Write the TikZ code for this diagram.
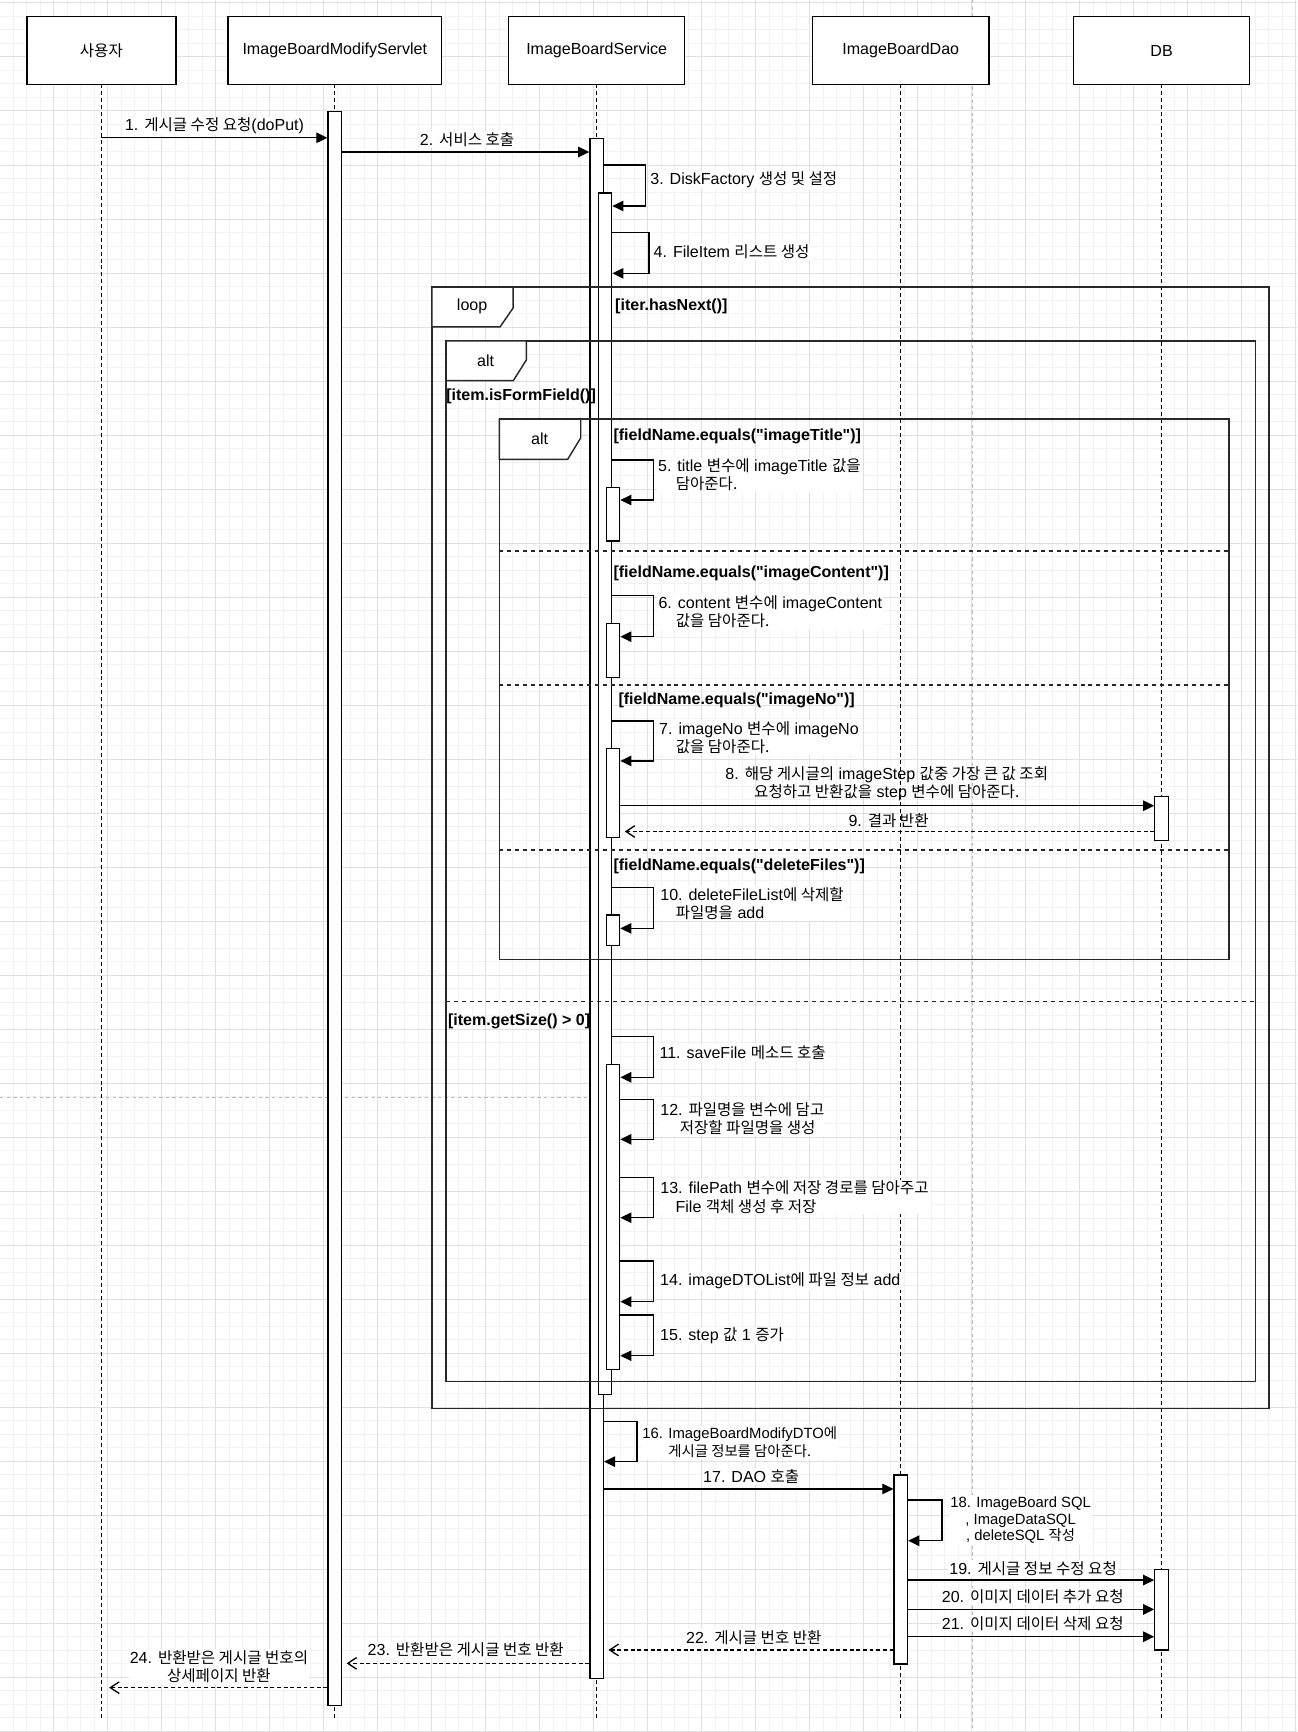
\documentclass[tikz,border=0pt]{standalone}
\usepackage{fontspec}
\setmainfont{Liberation Sans}[Ligatures=TeXOff]
\newfontfamily\krf[Scale=0.97]{Noto Sans CJK KR}
\newcommand\ko[1]{{\krf #1}}
\newcommand\labfont{\fontsize{14.5pt}{16.5pt}\selectfont}
\usetikzlibrary{arrows.meta}
\definecolor{gmin}{RGB}{242,242,242}
\definecolor{gmaj}{RGB}{224,224,224}
\definecolor{pbrk}{RGB}{185,185,185}
\definecolor{frmc}{RGB}{40,40,40}
\begin{document}
\begin{tikzpicture}[x=1pt,y=-1pt,
  every node/.style={font=\labfont},
  gridminor/.style={draw=gmin, line width=0.9pt},
  gridmajor/.style={draw=gmaj, line width=0.9pt},
  pagebreak/.style={draw=pbrk, line width=0.9pt, dash pattern=on 3pt off 3pt},
  hdr/.style={draw, line width=1.3pt, fill=white, inner sep=0pt, outer sep=0pt, minimum height=61.2pt},
  life/.style={line width=1.2pt, dash pattern=on 3.6pt off 2.7pt},
  bar/.style={draw, line width=1.2pt, fill=white, inner sep=0pt, minimum width=12.2pt, anchor=north},
  frm/.style={draw=frmc, line width=1.3pt, inner sep=0pt, outer sep=0pt, anchor=north west},
  tabshape/.style={draw=frmc, line width=1.3pt, fill=white},
  sepline/.style={draw=frmc, line width=1.3pt, dash pattern=on 3.6pt off 3.6pt},
  msg/.style={line width=1.2pt, -{Triangle[length=10pt,width=9.5pt]}},
  ret/.style={line width=1.2pt, dash pattern=on 3.5pt off 2.5pt, -{Straight Barb[length=8pt,width=10.5pt,line width=1.2pt]}, shorten >=4pt},
  lbl/.style={inner sep=1pt, fill=white},
  lbll/.style={lbl, anchor=west, align=left},
  lblc/.style={lbl, align=center},
  lblnf/.style={inner sep=1pt, align=center},
  grd/.style={font=\labfont\bfseries, inner sep=0pt, anchor=west},
]
\useasboundingbox (0,0) rectangle (1173,1566.4);
\fill[white] (0,0) rectangle (1173,1566.4);

% grid
\foreach \i in {0,...,96} {\draw[gridminor] ({-0.44+12.21*\i},0) -- ++(0,1566.4);}
\foreach \j in {0,...,128} {\draw[gridminor] (0,{2.7+12.21*\j}) -- ++(1173,0);}
\foreach \i in {0,...,24} {\draw[gridmajor] ({-0.44+48.84*\i},0) -- ++(0,1566.4);}
\foreach \j in {0,...,32} {\draw[gridmajor] (0,{2.7+48.84*\j}) -- ++(1173,0);}

% page breaks
\draw[pagebreak] (879.5,0) -- (879.5,1566.4);
\draw[pagebreak] (0,992.4) -- (534,992.4);

% participants
\node[hdr, minimum width=134.6pt] (user) at (91.7,45.7) {\ko{사용자}};
\node[hdr, minimum width=193.1pt] (servlet) at (302.75,45.7) {ImageBoardModifyServlet};
\node[hdr, minimum width=159.2pt] (service) at (539.6,45.7) {ImageBoardService};
\node[hdr, minimum width=159.3pt] (dao) at (814.65,45.7) {ImageBoardDao};
\node[hdr, minimum width=159pt] (db) at (1050.5,45.7) {DB};

% lifelines
\draw[life] (user.south) -- (user.south |- 0,1554);
\draw[life] (servlet.south) -- (servlet.south |- 0,1554);
\draw[life] (service.south) -- (service.south |- 0,1554);
\draw[life] (dao.south) -- (dao.south |- 0,1554);
\draw[life] (db.south) -- (db.south |- 0,1554);

% activation bars
\node[bar, minimum height=1441.6pt] (sb) at (302.75,100.4) {};
\node[bar, minimum height=1392.8pt] (vb) at (539.6,124.5) {};
\node[bar, minimum height=1086.7pt] (vn) at (547.15,174) {};
\node[bar, minimum height=48.7pt] (b5) at (554.35,440) {};
\node[bar, minimum height=48.9pt] (b6) at (554.35,563.1) {};
\node[bar, minimum height=80.5pt] (b7) at (554.35,676.2) {};
\node[bar, minimum height=27.7pt] (b10) at (554.35,827) {};
\node[bar, minimum height=275.8pt] (b11) at (554.35,962.3) {};
\node[bar, minimum height=170.9pt] (daob) at (814.65,1333.4) {};
\node[bar, minimum height=40.1pt] (db1) at (1050.5,719.6) {};
\node[bar, minimum height=72.6pt] (db2) at (1050.5,1419) {};

% frames
\node[frm, minimum width=756.9pt, minimum height=1014.1pt] (loopf) at (390.7,259.6) {};
\draw[tabshape] (loopf.north west) -- ++(73.3,0) -- ++(0,19) -- ++(-11.8,17.1) -- ++(-61.5,0) -- cycle;
\node[frm, minimum width=732.1pt, minimum height=941.2pt] (altf) at (403.4,308.4) {};
\draw[tabshape] (altf.north west) -- ++(72.6,0) -- ++(0,17.2) -- ++(-11.8,18.7) -- ++(-60.8,0) -- cycle;
\node[frm, minimum width=659.9pt, minimum height=488.6pt] (inaltf) at (451.6,379) {};
\draw[tabshape] (inaltf.north west) -- ++(73.6,0) -- ++(0,17) -- ++(-11.8,19.4) -- ++(-61.8,0) -- cycle;
\draw[sepline] (inaltf.west |- 0,498.3) -- (inaltf.east |- 0,498.3);
\draw[sepline] (inaltf.west |- 0,619.5) -- (inaltf.east |- 0,619.5);
\draw[sepline] (inaltf.west |- 0,768.7) -- (inaltf.east |- 0,768.7);
\draw[sepline] (altf.west |- 0,905.9) -- (altf.east |- 0,905.9);

% messages
\draw[msg] (user.south |- 0,124.6) -- (sb.west |- 0,124.6);
\draw[msg] (sb.east |- 0,137.5) -- (vb.west |- 0,137.5);
\draw[msg] (vb.east |- 0,149.2) -- (584,149.2) |- (vn.east |- 0,186.3);
\draw[msg] (vn.east |- 0,210.4) -- (587,210.4) |- (vn.east |- 0,247.2);
\draw[msg] (vn.east |- 0,416) -- (590.9,416) |- (b5.east |- 0,452.2);
\draw[msg] (vn.east |- 0,538.7) -- (590.9,538.7) |- (b6.east |- 0,575.8);
\draw[msg] (vn.east |- 0,652) -- (590.9,652) |- (b7.east |- 0,688.2);
\draw[msg] (b7.east |- 0,728.7) -- (db1.west |- 0,728.7);
\draw[ret] (db1.west |- 0,752) -- (b7.east |- 0,752);
\draw[msg] (vn.east |- 0,802.5) -- (590.9,802.5) |- (b10.east |- 0,839.6);
\draw[msg] (vn.east |- 0,937.6) -- (590.8,937.6) |- (b11.east |- 0,974.3);
\draw[msg] (b11.east |- 0,994.2) -- (590.8,994.2) |- (b11.east |- 0,1030.4);
\draw[msg] (b11.east |- 0,1065) -- (590.8,1065) |- (b11.east |- 0,1101.3);
\draw[msg] (b11.east |- 0,1140.5) -- (590.9,1140.5) |- (b11.east |- 0,1177.2);
\draw[msg] (b11.east |- 0,1189.3) -- (590.9,1189.3) |- (b11.east |- 0,1226.1);
\draw[msg] (vb.east |- 0,1285.8) -- (576.2,1285.8) |- (vb.east |- 0,1321.9);
\draw[msg] (vb.east |- 0,1346.6) -- (daob.west |- 0,1346.6);
\draw[msg] (daob.east |- 0,1356.6) -- (852,1356.6) |- (daob.east |- 0,1393.4);
\draw[msg] (daob.east |- 0,1429) -- (db2.west |- 0,1429);
\draw[msg] (daob.east |- 0,1455.5) -- (db2.west |- 0,1455.5);
\draw[msg] (daob.east |- 0,1480.2) -- (db2.west |- 0,1480.2);
\draw[ret] (daob.west |- 0,1492.2) -- (vb.east |- 0,1492.2);
\draw[ret] (vb.west |- 0,1504.3) -- (sb.east |- 0,1504.3);
\draw[ret, shorten >=7pt] (sb.west |- 0,1526.3) -- (user.south |- 0,1526.3);

% frame labels and guards
\node[inner sep=0pt] (tloop) at (427,277.3) {loop};
\node[inner sep=0pt] (talt1) at (439.2,326.2) {alt};
\node[inner sep=0pt] (talt2) at (488.1,396.4) {alt};
\node[grd] (g0) at (556.2,277.3) {[iter.hasNext()]};
\node[grd] (g1) at (403.4,358.7) {[item.isFormField()]};
\node[grd] (g2) at (554.7,395) {[fieldName.equals("imageTitle")]};
\node[grd] (g3) at (554.7,518.5) {[fieldName.equals("imageContent")]};
\node[grd] (g4) at (559.2,633) {[fieldName.equals("imageNo")]};
\node[grd] (g5) at (554.7,783.8) {[fieldName.equals("deleteFiles")]};
\node[grd] (g6) at (405,923.4) {[item.getSize() > 0]};

% message labels
\node[lblc] (l1) at (194,114) {1. \ko{게시글 수정 요청}(doPut)};
\node[lblc] (l2) at (422.4,126) {2. \ko{서비스 호출}};
\node[lbll] (l3) at (587,162.8) {3. DiskFactory \ko{생성 및 설정}};
\node[lbll] (l4) at (590,227.6) {4. FileItem \ko{리스트 생성}};
\node[lbll] (l5) at (594,429.5) {5. title \ko{변수에} imageTitle \ko{값을}\\\hspace*{16pt}\ko{담아준다.}};
\node[lbll] (l6) at (594.4,553.3) {6. content \ko{변수에} imageContent\\\hspace*{15.6pt}\ko{값을 담아준다.}};
\node[lbll] (l7) at (595,667) {7. imageNo \ko{변수에} imageNo\\\hspace*{15pt}\ko{값을 담아준다.}};
\node[lblnf] (l8) at (802,709) {8. \ko{해당 게시글의} imageStep \ko{값중 가장 큰 값 조회}\\\ko{요청하고 반환값을} step \ko{변수에 담아준다.}};
\node[lblnf] (l9) at (803.6,742) {9. \ko{결과 반환}};
\node[lbll] (l10) at (596,817.3) {10. deleteFileList\ko{에 삭제할}\\\hspace*{14pt}\ko{파일명을} add};
\node[lbll] (l11) at (595.3,952) {11. saveFile \ko{메소드 호출}};
\node[lbll] (l12) at (596,1011.5) {12. \ko{파일명을 변수에 담고}\\\hspace*{17.6pt}\ko{저장할 파일명을 생성}};
\node[lbll] (l13) at (596,1082.6) {13. filePath \ko{변수에 저장 경로를 담아주고}\\\hspace*{13.8pt}File \ko{객체 생성 후 저장}};
\node[lbll] (l14) at (595.9,1158.5) {14. imageDTOList\ko{에 파일 정보} add};
\node[lbll] (l15) at (595.9,1208.3) {15. step \ko{값} 1 \ko{증가}};
\node[lblc, font=\fontsize{13.4pt}{16pt}\selectfont] (l16) at (669,1304.2) {16. ImageBoardModifyDTO\ko{에}\\\ko{게시글 정보를 담아준다.}};
\node[lblc] (l17) at (679.4,1335.5) {17. DAO \ko{호출}};
\node[lblc, font=\fontsize{13.4pt}{15.2pt}\selectfont] (l18) at (923,1374.7) {18. ImageBoard SQL\\, ImageDataSQL\\, deleteSQL \ko{작성}};
\node[lblc] (l19) at (934.3,1418.4) {19. \ko{게시글 정보 수정 요청}};
\node[lblc] (l20) at (934,1444) {20. \ko{이미지 데이터 추가 요청}};
\node[lblc] (l21) at (934,1468) {21. \ko{이미지 데이터 삭제 요청}};
\node[lblc] (l22) at (681.7,1480.8) {22. \ko{게시글 번호 반환}};
\node[lblc] (l23) at (421.2,1492.3) {23. \ko{반환받은 게시글 번호 반환}};
\node[lblc] (l24) at (198,1507.3) {24. \ko{반환받은 게시글 번호의}\\\ko{상세페이지 반환}};
\end{tikzpicture}
\end{document}
